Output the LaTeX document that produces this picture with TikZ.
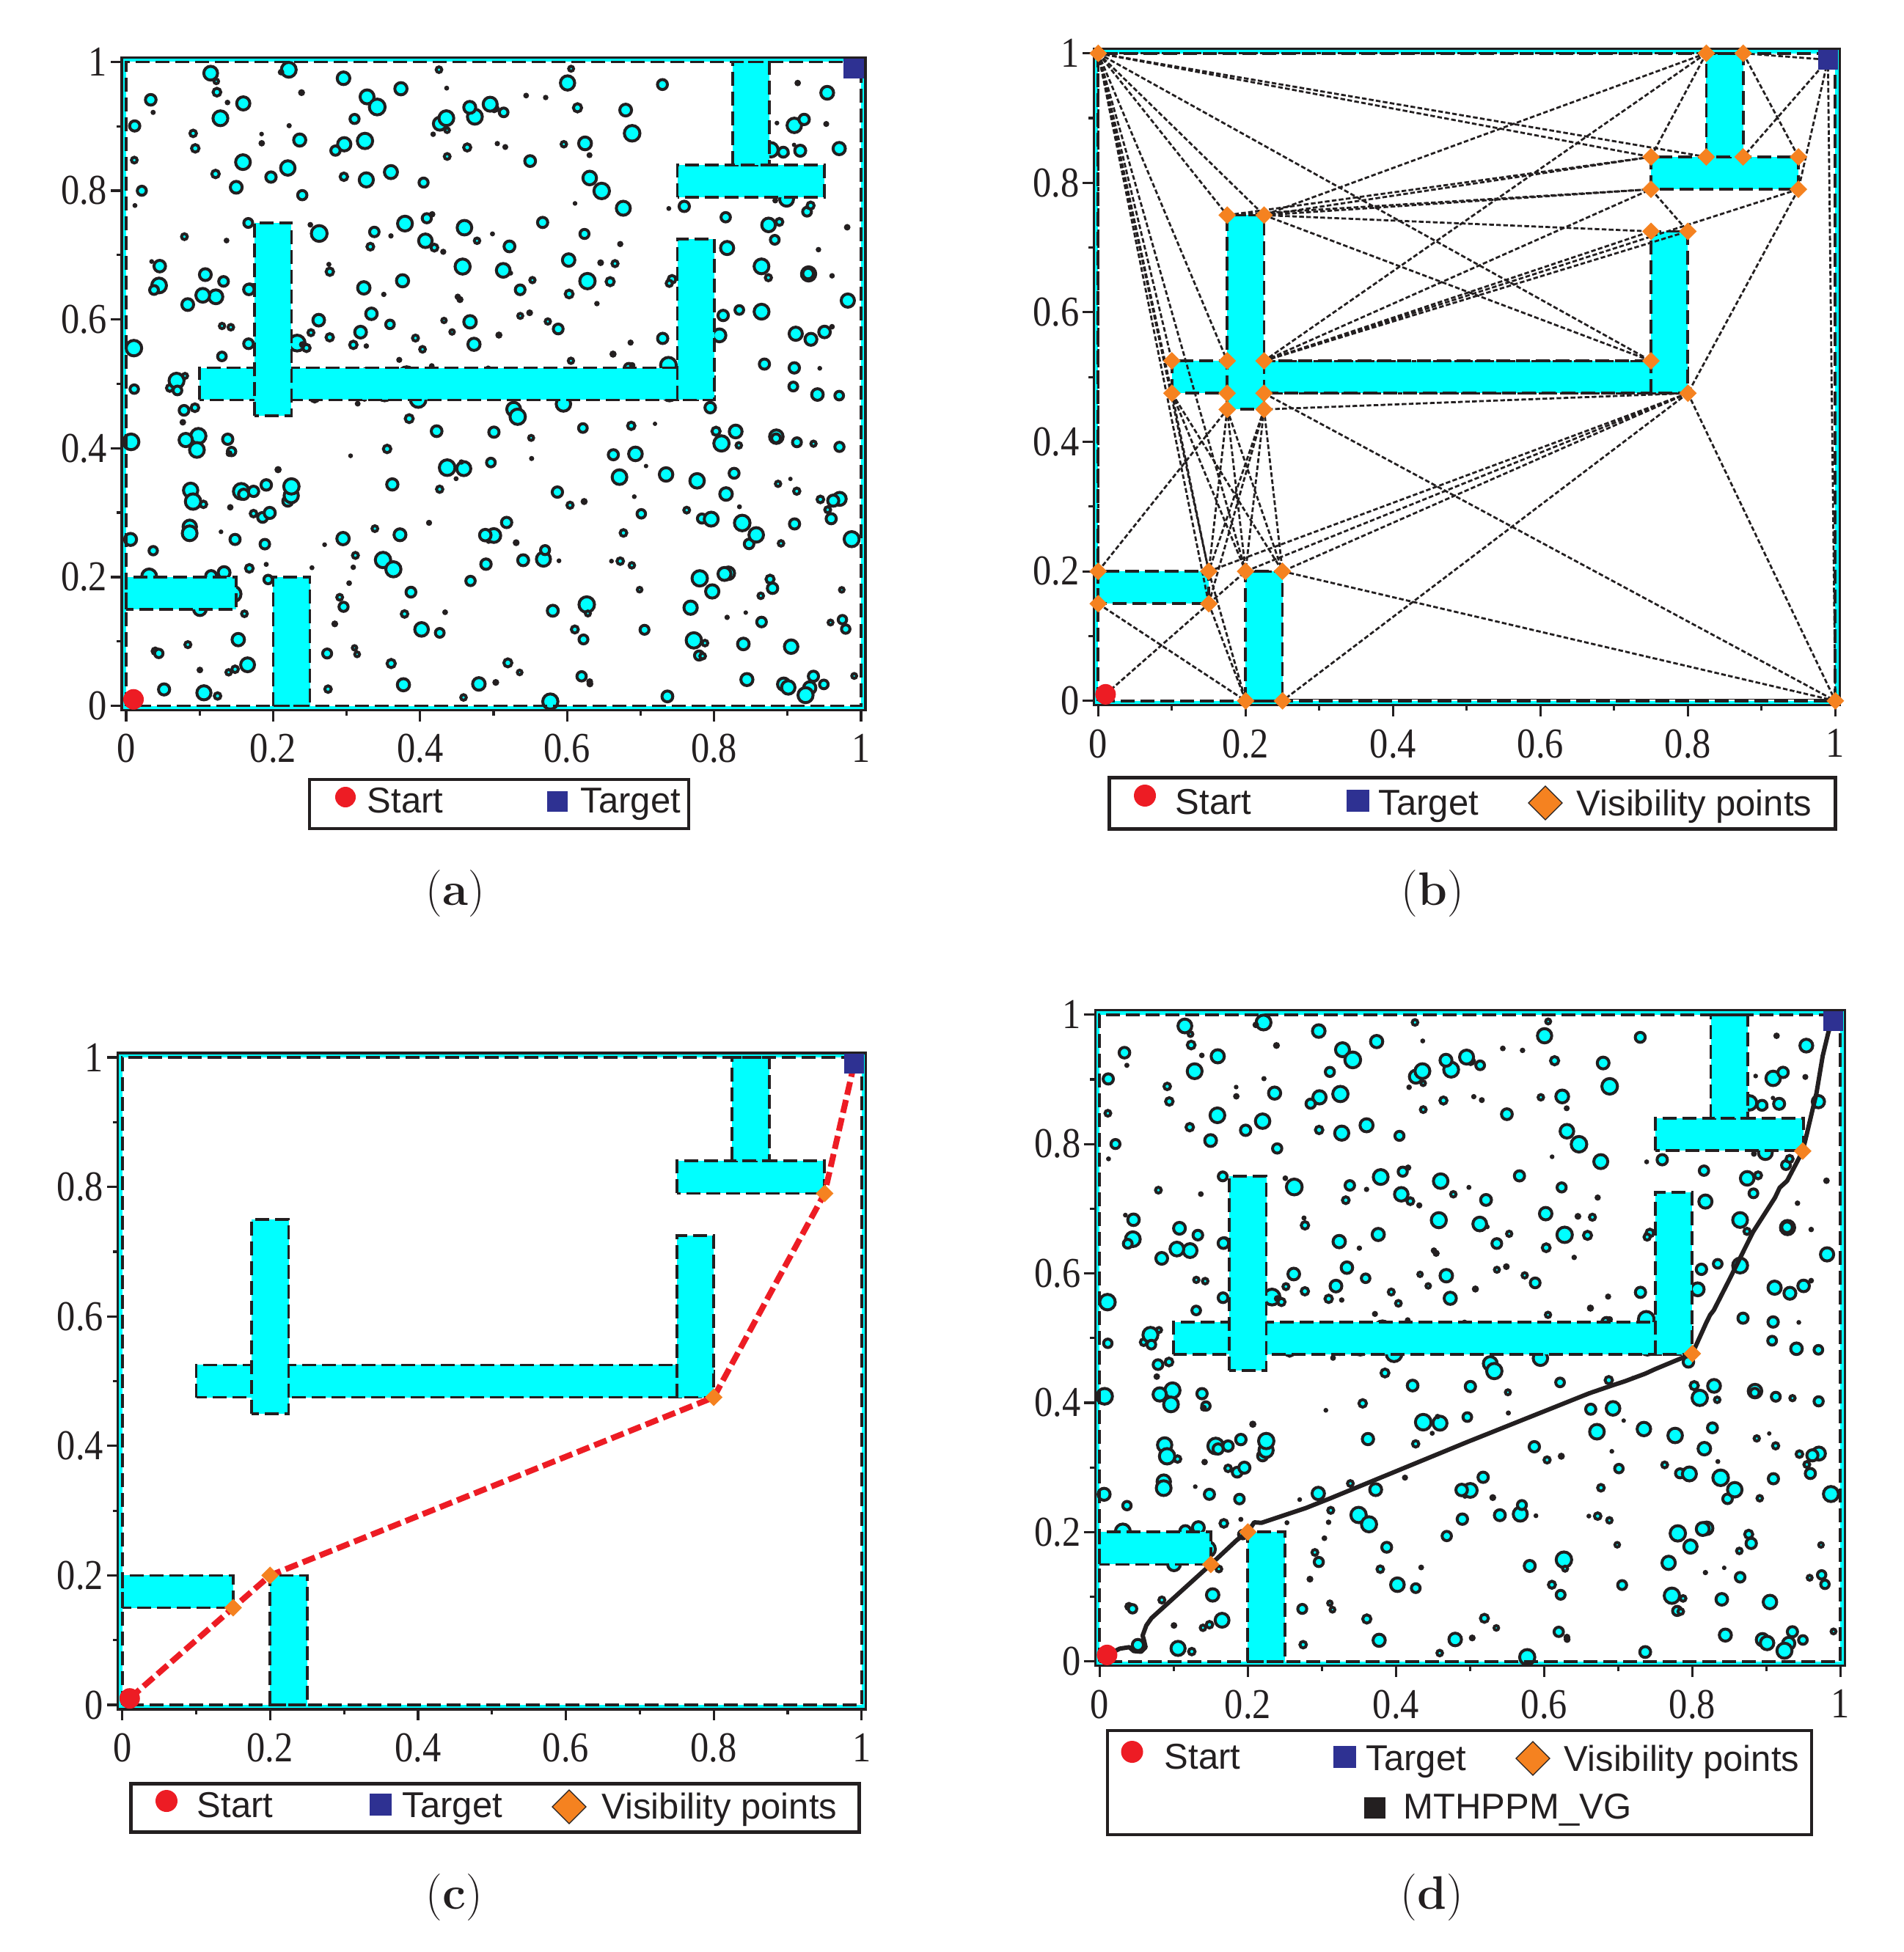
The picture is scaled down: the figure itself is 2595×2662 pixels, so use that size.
\documentclass[tikz,border=0pt]{standalone}
\usepackage{fontspec}
\newfontfamily\tickfont{Liberation Serif}[FakeStretch=0.87]
\newfontfamily\legfont{Liberation Sans}
\definecolor{obcyan}{HTML}{00FFFF}
\definecolor{stred}{HTML}{ED1C24}
\definecolor{tgblue}{HTML}{2E3192}
\definecolor{vorange}{HTML}{F58220}
\definecolor{ink}{HTML}{231F20}
\tikzset{
  ticklab/.style={inner sep=0pt,font=\tickfont\fontsize{14.5pt}{16pt}\selectfont,text=ink},
  legtext/.style={inner sep=0pt,font=\legfont\fontsize{12.25pt}{14pt}\selectfont,text=ink},
  captext/.style={inner sep=0pt,font=\fontsize{16pt}{18pt}\selectfont,text=ink},
  obst/.style={fill=obcyan,draw=ink,line width=0.95pt,dash pattern=on 4.75pt off 2pt},
  vedge/.style={draw=ink,line width=0.7pt,dash pattern=on 1.6pt off 0.8pt},
  framebox/.style={draw=ink,line width=0.8pt},
  tickline/.style={draw=ink,line width=0.8pt},
  pa/.style={shift={(172,962.5)},x=250.5pt,y=219.5pt},
  pb/.style={shift={(1497.3,955.7)},x=251.25pt,y=220.75pt},
  pc/.style={shift={(166.7,2325)},x=252pt,y=220.75pt},
  pd/.style={shift={(1499.3,2265.7)},x=252.5pt,y=220.5pt},
  vdia/.pic={\fill[vorange] (0pt,3pt) -- (3pt,0pt) -- (0pt,-3pt) -- (-3pt,0pt) -- cycle;},
}
\newcommand\plotbg{%
  \fill[obcyan] ([shift={(-1.1pt,-1.1pt)}]0,0) rectangle ([shift={(1.1pt,1.1pt)}]1,1);
  \fill[white] (0,0) rectangle (1,1);}
\newcommand\plotaxes[1]{%
  \draw[ink,line width=0.95pt,dash pattern=on 4.75pt off 2pt] (0,0) rectangle (1,1);
  \draw[framebox] ([shift={(-1.5pt,-1.5pt)}]0,0) rectangle ([shift={(1.5pt,1.5pt)}]1,1);
  \foreach \v/\lab [count=\k] in {0/0,0.2/0.2,0.4/0.4,0.6/0.6,0.8/0.8,1/1}{%
    \draw[tickline] ([xshift=-1.5pt]0,\v) -- ([xshift=-5.25pt]0,\v);
    \draw[tickline] ([yshift=-1.5pt]\v,0) -- ([yshift=-5.25pt]\v,0);
    \node[ticklab,anchor=east] (#1y\k) at ([xshift=-6.25pt]0,\v) {\lab};
    \node[ticklab,anchor=north] (#1x\k) at ([yshift=-9.5pt]\v,0) {\lab};
  }
  \foreach \v in {0.1,0.3,0.5,0.7,0.9}{%
    \draw[tickline] ([xshift=-1.5pt]0,\v) -- ([xshift=-3.25pt]0,\v);
    \draw[tickline] ([yshift=-1.5pt]\v,0) -- ([yshift=-3.25pt]\v,0);
  }}
\newcommand\obstacles{%
  \draw[obst] (0.1,0.475) rectangle (0.8,0.525);
  \draw[obst] (0.175,0.45) rectangle (0.225,0.75);
  \draw[obst] (0.75,0.475) rectangle (0.8,0.725);
  \draw[obst] (0.75,0.79) rectangle (0.95,0.84);
  \draw[obst] (0.825,0.84) rectangle (0.875,1);
  \draw[obst] (0,0.15) rectangle (0.15,0.2);
  \draw[obst] (0.2,0) rectangle (0.25,0.2);}
\newcommand\startgoal{%
  \fill[stred] (0.01,0.01) circle[radius=3.5pt];
  \fill[tgblue] ([shift={(-3.4pt,-3.4pt)}]0.99,0.99) rectangle ([shift={(3.4pt,3.4pt)}]0.99,0.99);}
\newcommand\randcircles{%
  \pgfmathsetseed{314159}%
  \foreach \k in {1,...,450}{%
    \pgfmathsetmacro\cx{0.006+0.988*rnd}%
    \pgfmathsetmacro\cy{0.006+0.988*rnd}%
    \pgfmathsetmacro\cr{0.75+2.45*rnd}%
    \ifdim\cr pt<1.25pt
      \fill[ink] (\cx,\cy) circle[radius=\cr pt];
    \else
      \pgfmathsetmacro\ci{\cr-0.5}%
      \draw[ink,fill=obcyan,line width=1pt] (\cx,\cy) circle[radius=\ci pt];
    \fi}%
  \draw[ink,fill=obcyan,line width=1pt] (0.0516,0.0254) circle[radius=1.9pt];}
\begin{document}
\begin{tikzpicture}[x=0.25pt,y=-0.25pt]
\useasboundingbox (0,0) rectangle (2595,2662);
\fill[white] (0,0) rectangle (2595,2662);

% ---------------- (a)
\begin{scope}[pa]
  \plotbg
  \randcircles
  \obstacles
  \plotaxes{a}
  \startgoal
\end{scope}
\draw[ink,line width=0.9pt] (422,1063) rectangle (939,1130);
\fill[stred] (471,1087) circle[radius=3.5pt];
\node[legtext,anchor=base west] (la1) at (500,1108) {Start};
\fill[tgblue] (746,1079) rectangle (774,1107);
\node[legtext,anchor=base west] (la2) at (791,1108) {Target};
\node[captext] (capa) at (621,1219) {(\textbf{a})};

% ---------------- (b)
\begin{scope}[pb]
  \plotbg
  \obstacles
  \coordinate (P0) at (0,1);
  \coordinate (T1) at (0.825,1);    \coordinate (T2) at (0.875,1);
  \coordinate (T3) at (0.75,0.84);  \coordinate (T4) at (0.825,0.84);
  \coordinate (T5) at (0.875,0.84); \coordinate (T6) at (0.95,0.84);
  \coordinate (T7) at (0.75,0.79);  \coordinate (T8) at (0.95,0.79);
  \coordinate (R1) at (0.75,0.725); \coordinate (R2) at (0.8,0.725);
  \coordinate (L1) at (0.175,0.75); \coordinate (L2) at (0.225,0.75);
  \coordinate (H1) at (0.1,0.525);  \coordinate (H2) at (0.175,0.525);
  \coordinate (H3) at (0.225,0.525);\coordinate (H4) at (0.75,0.525);
  \coordinate (H5) at (0.1,0.475);  \coordinate (H6) at (0.175,0.475);
  \coordinate (H7) at (0.225,0.475);\coordinate (H8) at (0.8,0.475);
  \coordinate (L3) at (0.175,0.45); \coordinate (L4) at (0.225,0.45);
  \coordinate (B1) at (0,0.2);      \coordinate (B2) at (0.15,0.2);
  \coordinate (B3) at (0,0.15);     \coordinate (B4) at (0.15,0.15);
  \coordinate (B5) at (0.2,0.2);    \coordinate (B6) at (0.25,0.2);
  \coordinate (B7) at (0.2,0);      \coordinate (B8) at (0.25,0);
  \coordinate (C1) at (1,0);
  \coordinate (S) at (0.01,0.01);   \coordinate (G) at (0.99,0.99);
  \draw[ink,line width=0.3pt] ([yshift=0.6pt]B8) -- ([yshift=0.6pt]C1);
  \foreach \a/\b in {P0/T1,P0/T2,P0/T3,P0/T4,P0/H4,P0/L1,P0/L2,P0/H1,P0/H2,P0/H5,
    P0/B2,P0/B4,P0/B5,P0/B1,T1/T3,T1/L2,T1/H3,T1/T2,T2/T6,T2/G,G/T5,G/T8,G/C1,
    L1/T3,L2/T3,L2/T7,L1/T7,L2/R1,L2/H4,L1/L2,H3/T7,H3/T8,H3/R2,H3/R1,T7/R2,T8/H8,
    H8/C1,H8/B2,H8/B5,H8/B6,H8/L4,H8/B8,H7/C1,B6/C1,S/B4,B4/B5,B3/B7,B1/L3,B2/B7,
    B4/B7,H5/B2,H5/B5,H5/B6,L3/B2,L3/B5,L3/B6,L4/B2,L4/B4,L4/B5,L4/B6,B5/B6,H3/H4,H7/H8}{
    \draw[vedge] (\a) -- (\b);
  }
  \plotaxes{b}
  \foreach \p in {P0,T1,T2,T3,T4,T5,T6,T7,T8,R1,R2,L1,L2,H1,H2,H3,H4,H5,H6,H7,H8,
    L3,L4,B1,B2,B3,B4,B5,B6,B7,B8,C1}{
    \pic at (\p) {vdia};
  }
  \startgoal
\end{scope}
\draw[ink,line width=1.25pt] (1512,1060) rectangle (2502,1130);
\fill[stred] (1561,1085) circle[radius=3.75pt];
\node[legtext,anchor=base west] (lb1) at (1602,1110) {Start};
\fill[tgblue] (1836,1077) rectangle (1867,1107);
\node[legtext,anchor=base west] (lb2) at (1879,1111) {Target};
\draw[ink,line width=0.3pt,fill=vorange] (2107,1095) +(0pt,5.75pt) -- +(5.75pt,0pt) -- +(0pt,-5.75pt) -- +(-5.75pt,0pt) -- cycle;
\node[legtext,anchor=base west] (lb3) at (2149,1112) {Visibility points};
\node[captext] (capb) at (1953,1219) {(\textbf{b})};

% ---------------- (c)
\begin{scope}[pc]
  \plotbg
  \obstacles
  \plotaxes{c}
  \coordinate (cS) at (0.01,0.01);
  \coordinate (cV1) at (0.15,0.15);
  \coordinate (cV2) at (0.2,0.2);
  \coordinate (cV3) at (0.8,0.475);
  \coordinate (cV4) at (0.95,0.79);
  \coordinate (cG) at (0.99,0.99);
  \draw[stred,line width=2pt,dash pattern=on 4.5pt off 1.8pt] (cS) -- (cV1) -- (cV2) -- (cV3) -- (cV4) -- (cG);
  \foreach \p in {cV1,cV2,cV3,cV4}{\pic at (\p) {vdia};}
  \startgoal
\end{scope}
\draw[ink,line width=1.25pt] (178,2432) rectangle (1171,2498);
\fill[stred] (227,2456) circle[radius=3.75pt];
\node[legtext,anchor=base west] (lc1) at (268,2478) {Start};
\fill[tgblue] (504,2446) rectangle (534,2476);
\node[legtext,anchor=base west] (lc2) at (548,2478) {Target};
\draw[ink,line width=0.3pt,fill=vorange] (776,2464) +(0pt,5.75pt) -- +(5.75pt,0pt) -- +(0pt,-5.75pt) -- +(-5.75pt,0pt) -- cycle;
\node[legtext,anchor=base west] (lc3) at (820,2480) {Visibility points};
\node[captext] (capc) at (619,2588) {(\textbf{c})};

% ---------------- (d)
\begin{scope}[pd]
  \plotbg
  \randcircles
  \obstacles
  \plotaxes{d}
  \coordinate (dS) at (0.0106,0.0102);
  \coordinate (dV1) at (0.15,0.15);
  \coordinate (dV2) at (0.2,0.2);
  \coordinate (dV3) at (0.8,0.4758);
  \coordinate (dV4) at (0.949,0.789);
  \coordinate (dG) at (0.99,0.99);
  \draw[ink,line width=1.5pt,line join=round,line cap=round]
    (dS) -- (0.027,0.0197) -- (0.040,0.022) -- (0.046,0.016) -- (0.056,0.015)
    -- (0.062,0.022) -- (0.060,0.032) -- (0.058,0.04) -- (0.063,0.0556) -- (0.070,0.067)
    -- (dV1) -- (0.1855,0.188) -- (dV2) -- (0.2086,0.215) -- (0.2185,0.2143)
    -- (0.278,0.237) -- (0.311,0.252) -- (0.4957,0.339) -- (0.661,0.4146)
    -- (0.69,0.426) -- (0.71,0.4336) -- (0.7367,0.445) -- (0.75,0.452) -- (dV3)
    -- (0.819,0.524) -- (0.824,0.5356) -- (0.829,0.543) -- (0.849,0.588)
    -- (0.882,0.664) -- (0.9116,0.717) -- (0.918,0.7325) -- (0.928,0.743) -- (dV4)
    -- (0.9545,0.815) -- (0.9677,0.879) -- (0.976,0.936) -- (0.984,0.974) -- (dG);
  \foreach \p in {dV1,dV2,dV3,dV4}{\pic at (\p) {vdia};}
  \startgoal
\end{scope}
\draw[ink,line width=1.1pt] (1510,2360) rectangle (2470,2502);
\fill[stred] (1543.5,2389) circle[radius=3.75pt];
\node[legtext,anchor=base west] (ld1) at (1587,2412) {Start};
\fill[tgblue] (1818,2381) rectangle (1848.5,2411);
\node[legtext,anchor=base west] (ld2) at (1862,2414) {Target};
\draw[ink,line width=0.3pt,fill=vorange] (2090,2398) +(0pt,5.75pt) -- +(5.75pt,0pt) -- +(0pt,-5.75pt) -- +(-5.75pt,0pt) -- cycle;
\node[legtext,anchor=base west] (ld3) at (2132,2415) {Visibility points};
\fill[ink] (1860,2451) rectangle (1889,2480);
\node[legtext,anchor=base west] (ld4) at (1913,2480) {MTHPPM\_VG};
\node[captext] (capd) at (1952,2588) {(\textbf{d})};
\end{tikzpicture}
\end{document}
